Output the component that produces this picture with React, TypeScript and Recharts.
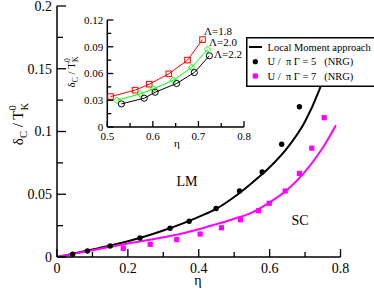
import React from "react";
import { ComposedChart, LineChart, Line, Scatter, XAxis, YAxis, Legend, Customized } from "recharts";

const SERIF = "'Liberation Serif', 'Times New Roman', serif";
const MAGENTA = "#ff00ff";

// main panel axes
const etaTicks = [0, 0.1, 0.2, 0.3, 0.4, 0.5, 0.6, 0.7, 0.8];
const etaLabels = ["0", "", "0.2", "", "0.4", "", "0.6", "", "0.8"];
const deltaTicks = [0, 0.025, 0.05, 0.075, 0.1, 0.125, 0.15, 0.175, 0.2];
const deltaLabels = ["0", "", "0.05", "", "0.1", "", "0.15", "", "0.2"];

// Local Moment approach, U/piGamma = 5 (black)
const lm5Eta = [0, 0.05, 0.1, 0.15, 0.2, 0.25, 0.3, 0.35, 0.4, 0.45, 0.5, 0.55, 0.6, 0.65, 0.7, 0.74, 0.775];
const lm5Delta = [0, 0.0029, 0.0059, 0.0091, 0.0126, 0.0165, 0.0211, 0.0262, 0.032, 0.0385, 0.0478, 0.059, 0.0715, 0.087, 0.108, 0.133, 0.162];
// Local Moment approach, U/piGamma = 7 (magenta)
const lm7Eta = [0, 0.05, 0.1, 0.15, 0.2, 0.25, 0.3, 0.35, 0.4, 0.45, 0.5, 0.55, 0.6, 0.65, 0.7, 0.75, 0.787];
const lm7Delta = [0, 0.0027, 0.0054, 0.0081, 0.0108, 0.0131, 0.0157, 0.0186, 0.0221, 0.0262, 0.0305, 0.0354, 0.0435, 0.0535, 0.068, 0.087, 0.105];

// NRG points
const nrg5Eta = [0.044, 0.086, 0.15, 0.234, 0.319, 0.373, 0.449, 0.515, 0.579, 0.634, 0.684];
const nrg5Delta = [0.0022, 0.0048, 0.0088, 0.0151, 0.0229, 0.0285, 0.0386, 0.0526, 0.0678, 0.0898, 0.1197];
const nrg7Eta = [0.187, 0.263, 0.338, 0.404, 0.464, 0.518, 0.569, 0.599, 0.644, 0.684, 0.719, 0.754];
const nrg7Delta = [0.0069, 0.0101, 0.0139, 0.0183, 0.0233, 0.0297, 0.0369, 0.0428, 0.0526, 0.0666, 0.0867, 0.111];

// inset: dependence on the NRG discretisation Lambda
const insetEtaTicks = [0.5, 0.55, 0.6, 0.65, 0.7, 0.75, 0.8];
const insetEtaLabels = ["0.5", "", "0.6", "", "0.7", "", "0.8"];
const insetDeltaTicks = [0, 0.015, 0.03, 0.045, 0.06, 0.075, 0.09, 0.105, 0.12];
const insetDeltaLabels = ["0", "", "0.03", "", "0.06", "", "0.09", "", "0.12"];
const lam18Eta = [0.507, 0.561, 0.592, 0.635, 0.676, 0.709];
const lam18Delta = [0.0341, 0.0413, 0.048, 0.0596, 0.075, 0.098];
const lam20Eta = [0.521, 0.572, 0.601, 0.645, 0.685, 0.72];
const lam20Delta = [0.03, 0.0371, 0.0428, 0.0525, 0.0668, 0.087];
const lam22Eta = [0.531, 0.581, 0.605, 0.652, 0.691, 0.724];
const lam22Delta = [0.0259, 0.0323, 0.039, 0.0488, 0.0611, 0.0799];

const legendLabels = ["Local Moment approach", "U /  \u03c0 \u0393 = 5   (NRG)", "U /  \u03c0 \u0393 = 7   (NRG)"];

const zip = (xs: number[], ys: number[]) => xs.map((x, i) => ({ x, y: ys[i] }));

type Side = "bottom" | "top" | "left" | "right";

function axisTick(side: Side, ticks: number[], labels: string[], major: number, minor: number, fontSize: number, gap: number, showLabels: boolean) {
  return (props: any) => {
    const { x, y, payload } = props;
    const i = ticks.findIndex((t) => Math.abs(t - payload.value) < 1e-9);
    const label = labels[i] ?? "";
    const len = label ? major : minor;
    let x2 = x, y2 = y;
    if (side === "bottom") y2 = y - len;
    if (side === "top") y2 = y + len;
    if (side === "left") x2 = x + len;
    if (side === "right") x2 = x - len;
    let text = null;
    if (showLabels && label) {
      text =
        side === "bottom" ? (
          <text x={x} y={y + gap} textAnchor="middle" fontSize={fontSize} fontFamily={SERIF} fill="#000">{label}</text>
        ) : (
          <text x={x - gap} y={y} dy="0.35em" textAnchor="end" fontSize={fontSize} fontFamily={SERIF} fill="#000">{label}</text>
        );
    }
    return (
      <g>
        <line x1={x} y1={y} x2={x2} y2={y2} stroke="#000" strokeWidth={1.3} />
        {text}
      </g>
    );
  };
}

const frame = { stroke: "#000", strokeWidth: 1.5 };

const blackDot = (p: any) => <circle key={p.index} cx={p.cx} cy={p.cy} r={2.7} fill="#000" />;
const magentaSquare = (p: any) => <rect key={p.index} x={p.cx - 2.6} y={p.cy - 2.6} width={5.2} height={5.2} fill={MAGENTA} />;
const openSquare = (p: any) => <rect key={p.index} x={p.cx - 2.8} y={p.cy - 2.8} width={5.6} height={5.6} fill="none" stroke="#ff0000" strokeWidth={1} />;
const openDiamond = (p: any) => (
  <polygon key={p.index} points={`${p.cx},${p.cy - 3.3} ${p.cx + 3.3},${p.cy} ${p.cx},${p.cy + 3.3} ${p.cx - 3.3},${p.cy}`} fill="none" stroke="#00ff00" strokeWidth={1} />
);
const openCircle = (p: any) => <circle key={p.index} cx={p.cx} cy={p.cy} r={3.1} fill="none" stroke="#000" strokeWidth={1} />;

function DeltaLabel({ x, y, size }: { x: number; y: number; size: number }) {
  const s = size * 0.7;
  return (
    <text transform={`translate(${x},${y}) rotate(-90)`} textAnchor="middle" fontSize={size} fontFamily={SERIF} fill="#000">
      {"\u03b4"}
      <tspan fontSize={s} dy={size * 0.25}>C</tspan>
      <tspan dy={-size * 0.25} style={{ whiteSpace: "pre" }}>{" / T"}</tspan>
      <tspan fontSize={s} dy={-size * 0.45}>0</tspan>
      <tspan fontSize={s} dx={-s * 0.5} dy={size * 0.75}>K</tspan>
    </text>
  );
}

function MainTexts() {
  return (
    <g>
      <DeltaLabel x={23} y={124} size={15} />
      <text x={198} y={285} textAnchor="middle" fontSize={14} fontFamily={SERIF}>{"\u03b7"}</text>
      <text x={187} y={186} textAnchor="middle" fontSize={14} fontFamily={SERIF}>LM</text>
      <text x={300} y={225} textAnchor="middle" fontSize={14} fontFamily={SERIF}>SC</text>
    </g>
  );
}

function InsetTexts() {
  return (
    <g fontSize={11} fontFamily={SERIF}>
      <DeltaLabel x={15} y={62} size={11} />
      <text x={117} y={137} textAnchor="middle">{"\u03b7"}</text>
      <text x={144} y={25}>{"\u039b=1.8"}</text>
      <text x={149} y={36}>{"\u039b=2.0"}</text>
      <text x={154} y={48}>{"\u039b=2.2"}</text>
    </g>
  );
}

function LegendBox() {
  return (
    <svg width={130} height={50} style={{ display: "block" }}>
      <rect x={0.75} y={0.75} width={140} height={48.5} fill="#fff" stroke="#000" strokeWidth={1.5} />
      <line x1={3} y1={10} x2={16} y2={10} stroke="#000" strokeWidth={2} />
      <circle cx={9.3} cy={24.7} r={2.6} fill="#000" />
      <rect x={6.7} y={36.4} width={5.2} height={5.2} fill={MAGENTA} />
      {legendLabels.map((t, i) => (
        <text key={t} x={21.5} y={13.8 + i * 14.5} fontSize={10.5} fontFamily={SERIF} style={{ whiteSpace: "pre" }}>
          {t}
        </text>
      ))}
    </svg>
  );
}

export default function App() {
  return (
    <div style={{ position: "absolute", left: 0, top: 0, width: 374, height: 290, background: "#fff", overflow: "hidden" }}>
      <ComposedChart width={374} height={290} margin={{ top: 6, right: 33.5, bottom: 0, left: 0 }}>
        <XAxis dataKey="x" type="number" domain={[0, 0.8]} ticks={etaTicks} interval={0} allowDataOverflow height={33}
          tickSize={0} tickMargin={0} tickLine={false} axisLine={frame}
          tick={axisTick("bottom", etaTicks, etaLabels, 8, 5, 14, 16, true)} />
        <XAxis xAxisId="top" orientation="top" type="number" domain={[0, 0.8]} ticks={etaTicks} interval={0} allowDataOverflow height={0}
          tickSize={0} tickMargin={0} tickLine={false} axisLine={frame}
          tick={axisTick("top", etaTicks, etaLabels, 8, 5, 14, 0, false)} />
        <YAxis dataKey="y" type="number" domain={[0, 0.2]} ticks={deltaTicks} interval={0} allowDataOverflow width={57}
          tickSize={0} tickMargin={0} tickLine={false} axisLine={frame}
          tick={axisTick("left", deltaTicks, deltaLabels, 9, 6, 14, 5, true)} />
        <YAxis yAxisId="right" orientation="right" type="number" domain={[0, 0.2]} ticks={deltaTicks} interval={0} allowDataOverflow width={0}
          tickSize={0} tickMargin={0} tickLine={false} axisLine={frame}
          tick={axisTick("right", deltaTicks, deltaLabels, 9, 6, 14, 0, false)} />
        <Line data={zip(lm5Eta, lm5Delta)} dataKey="y" type="monotone" stroke="#000" strokeWidth={2} dot={false} isAnimationActive={false} />
        <Line data={zip(lm7Eta, lm7Delta)} dataKey="y" type="monotone" stroke={MAGENTA} strokeWidth={2} dot={false} isAnimationActive={false} />
        <Scatter data={zip(nrg5Eta, nrg5Delta)} dataKey="y" shape={blackDot} isAnimationActive={false} />
        <Scatter data={zip(nrg7Eta, nrg7Delta)} dataKey="y" shape={magentaSquare} isAnimationActive={false} />
        <Customized component={MainTexts} />
        <Legend layout="vertical" align="center" verticalAlign="middle" content={() => <LegendBox />}
          wrapperStyle={{ left: 246, top: 37, width: 130, height: 50 }} />
      </ComposedChart>

      <div style={{ position: "absolute", left: 60, top: 10 }}>
        <LineChart width={200} height={150} margin={{ top: 10, right: 16, bottom: 0, left: 0 }}>
          <XAxis dataKey="x" type="number" domain={[0.5, 0.8]} ticks={insetEtaTicks} interval={0} allowDataOverflow height={33}
            tickSize={0} tickMargin={0} tickLine={false} axisLine={frame}
            tick={axisTick("bottom", insetEtaTicks, insetEtaLabels, 6, 4, 11, 13, true)} />
          <XAxis xAxisId="top" orientation="top" type="number" domain={[0.5, 0.8]} ticks={insetEtaTicks} interval={0} allowDataOverflow height={0}
            tickSize={0} tickMargin={0} tickLine={false} axisLine={frame}
            tick={axisTick("top", insetEtaTicks, insetEtaLabels, 6, 4, 11, 0, false)} />
          <YAxis dataKey="y" type="number" domain={[0, 0.12]} ticks={insetDeltaTicks} interval={0} allowDataOverflow width={47.3}
            tickSize={0} tickMargin={0} tickLine={false} axisLine={frame}
            tick={axisTick("left", insetDeltaTicks, insetDeltaLabels, 6, 4, 11, 4, true)} />
          <YAxis yAxisId="right" orientation="right" type="number" domain={[0, 0.12]} ticks={insetDeltaTicks} interval={0} allowDataOverflow width={0}
            tickSize={0} tickMargin={0} tickLine={false} axisLine={frame}
            tick={axisTick("right", insetDeltaTicks, insetDeltaLabels, 6, 4, 11, 0, false)} />
          <Line data={zip(lam18Eta, lam18Delta)} dataKey="y" type="linear" stroke="#ff0000" strokeWidth={1} dot={openSquare} isAnimationActive={false} />
          <Line data={zip(lam20Eta, lam20Delta)} dataKey="y" type="linear" stroke="#00ff00" strokeWidth={1} dot={openDiamond} isAnimationActive={false} />
          <Line data={zip(lam22Eta, lam22Delta)} dataKey="y" type="linear" stroke="#000" strokeWidth={1} dot={openCircle} isAnimationActive={false} />
          <Customized component={InsetTexts} />
        </LineChart>
      </div>
    </div>
  );
}
